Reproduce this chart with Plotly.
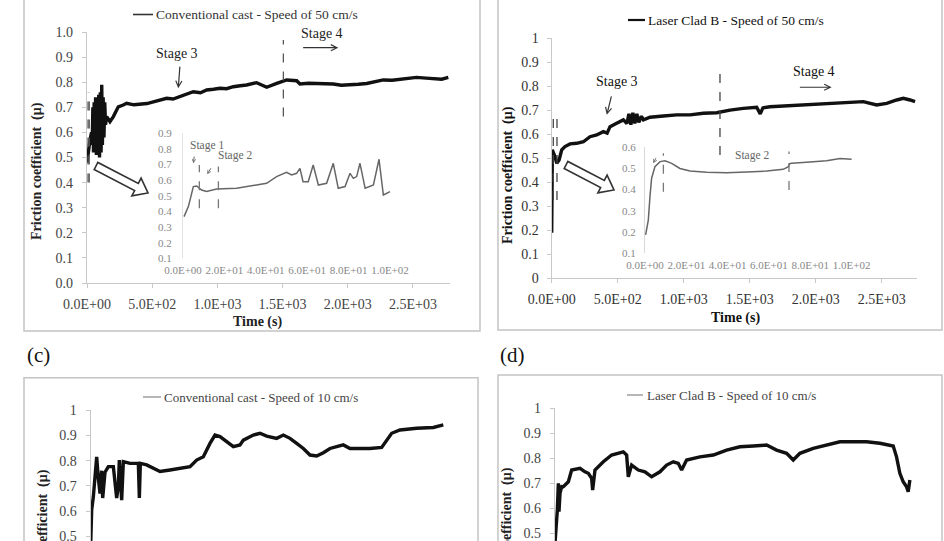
import math
import plotly.graph_objects as go

W, H = 944, 541

# ---------------- data ----------------
# (a) Conventional cast - 50 cm/s (main)
tl_t = [0, 10, 23, 35, 40, 45, 50, 55, 60, 66, 72, 78, 84, 90, 96, 102, 108, 113, 118, 124,
        130, 136, 142, 151, 176, 202, 240, 278, 304, 360, 406, 460, 509, 560, 611, 660, 713, 765, 815, 870,
        918, 970, 1020, 1070, 1122, 1175, 1224, 1301, 1340, 1378, 1455, 1531, 1608, 1633, 1700, 1761, 1830, 1889, 1950, 2017,
        2080, 2145, 2210, 2272, 2340, 2400, 2460, 2528, 2600, 2656, 2720, 2771]
tl_mu = [0.48, 0.53, 0.57, 0.60, 0.55, 0.70, 0.52, 0.72, 0.53, 0.74, 0.51, 0.73, 0.52, 0.75, 0.50, 0.76, 0.52, 0.79, 0.55, 0.74,
         0.58, 0.72, 0.63, 0.663, 0.643, 0.663, 0.702, 0.709, 0.716, 0.71, 0.713, 0.715, 0.722, 0.728, 0.736, 0.733, 0.742, 0.752, 0.762, 0.758,
         0.769, 0.772, 0.776, 0.774, 0.782, 0.786, 0.789, 0.798, 0.79, 0.78, 0.795, 0.809, 0.806, 0.793, 0.796, 0.795, 0.792, 0.793, 0.788, 0.789,
         0.792, 0.795, 0.802, 0.809, 0.808, 0.811, 0.814, 0.819, 0.816, 0.815, 0.812, 0.819]
# (a) inset, first 100 s
ia_t = [0.5, 2.6, 5, 6.6, 9, 11.4, 16.2, 25.9, 35.5, 40.4, 45.2, 50, 52.5, 54.9, 56.5, 58, 60.5, 62.9, 65.4, 69.4,
        72.6, 75, 78.3, 80.7, 82.3, 83.9, 85.5, 88, 92, 94.7, 96.8, 100]
ia_mu = [0.367, 0.431, 0.559, 0.563, 0.537, 0.527, 0.544, 0.548, 0.569, 0.58, 0.623, 0.65, 0.633, 0.644, 0.676, 0.59, 0.59, 0.697, 0.569, 0.58,
         0.708, 0.548, 0.559, 0.644, 0.612, 0.623, 0.708, 0.548, 0.569, 0.734, 0.505, 0.527]

# (b) Laser Clad B - 50 cm/s (main)
tr_t = [0, 3, 5, 15, 25, 38, 56, 76, 101, 139, 189, 240, 290, 341, 391, 420, 442, 492, 543, 570,
        585, 600, 615, 630, 645, 660, 680, 695, 745, 846, 947, 1048, 1149, 1250, 1351, 1452, 1553, 1580, 1600, 1654,
        1755, 1856, 1957, 2058, 2159, 2260, 2361, 2462, 2538, 2614, 2664, 2715, 2753]
tr_mu = [0.19, 0.40, 0.535, 0.52, 0.507, 0.479, 0.493, 0.535, 0.549, 0.56, 0.5625, 0.569, 0.59, 0.597, 0.611, 0.605, 0.632, 0.646, 0.66, 0.645,
         0.685, 0.64, 0.69, 0.645, 0.685, 0.65, 0.675, 0.66, 0.671, 0.676, 0.681, 0.681, 0.6875, 0.69, 0.701, 0.708, 0.7125, 0.685, 0.71, 0.715,
         0.718, 0.722, 0.726, 0.729, 0.729, 0.732, 0.736, 0.722, 0.729, 0.743, 0.75, 0.743, 0.736]
# (b) inset
ib_t = [0.3, 1.6, 2.4, 3.2, 4.8, 7.3, 9.7, 12.9, 16.9, 21.8, 29.8, 39.5, 49.2, 58.9, 66.9, 69.4, 70.0, 71, 78.2, 87.9, 94.4, 100]
ib_mu = [0.186, 0.256, 0.366, 0.452, 0.506, 0.53, 0.534, 0.522, 0.498, 0.486, 0.48, 0.478, 0.481, 0.486, 0.494, 0.506, 0.52, 0.522,
         0.527, 0.534, 0.545, 0.541]

# (c) Conventional cast - 10 cm/s
c_t = [0, 41, 111, 181, 251, 321, 391, 461, 503, 601, 741, 951, 1091, 1161, 1203, 1301, 1371, 1651, 2001, 2043,
       2085, 2351, 2631, 2911, 3331, 3751, 4171, 4451, 4731, 5011, 5221, 5431, 5711, 5991, 6271, 6412, 6832, 7112, 7392, 7812,
       8092, 8372, 8652, 8932, 9212, 9492, 9772, 10052, 10332, 10612, 10892, 11312, 11732, 12222, 12432, 12642, 12992, 13692, 14392, 14812]
c_mu = [0.47, 0.605, 0.657, 0.723, 0.815, 0.73, 0.67, 0.76, 0.652, 0.754, 0.776, 0.776, 0.652, 0.70, 0.802, 0.644, 0.796, 0.789, 0.789, 0.652,
        0.789, 0.783, 0.77, 0.757, 0.763, 0.77, 0.776, 0.802, 0.815, 0.868, 0.901, 0.895, 0.875, 0.855, 0.862, 0.881, 0.901, 0.908, 0.897, 0.888,
        0.901, 0.888, 0.868, 0.848, 0.822, 0.818, 0.831, 0.848, 0.855, 0.862, 0.848, 0.848, 0.848, 0.852, 0.881, 0.908, 0.921, 0.928, 0.931, 0.941]

# (d) Laser Clad B - 10 cm/s
d_t = [0, 42, 98, 140, 168, 210, 280, 350, 560, 700, 1050, 1260, 1400, 1540, 1582, 1680, 2030, 2380, 2660, 2870,
       3010, 3080, 3220, 3500, 3780, 4060, 4410, 4690, 4970, 5180, 5320, 5530, 6090, 6650, 7210, 7770, 8330, 8890, 9310, 9730,
       10010, 10290, 10850, 11410, 11970, 12530, 13090, 13650, 14210, 14350, 14490, 14630, 14770, 14840, 14910]
d_mu = [0.46, 0.513, 0.593, 0.70, 0.587, 0.66, 0.687, 0.686, 0.706, 0.753, 0.76, 0.746, 0.74, 0.72, 0.673, 0.753, 0.786, 0.813, 0.82, 0.826,
        0.813, 0.726, 0.773, 0.753, 0.746, 0.726, 0.746, 0.773, 0.786, 0.78, 0.753, 0.793, 0.806, 0.813, 0.833, 0.846, 0.849, 0.853, 0.833, 0.82,
        0.793, 0.82, 0.84, 0.853, 0.866, 0.866, 0.866, 0.86, 0.849, 0.806, 0.74, 0.706, 0.686, 0.666, 0.713]

# stage boundaries (time, mu_low, mu_high)
tl_bounds = [(8, 0.40, 0.76), (17, 0.40, 0.76), (1506, 0.663, 0.968)]
ia_bounds = [(7.9, 0.42, 0.697), (17.1, 0.42, 0.687)]
tr_bounds = [(12, 0.326, 0.6875), (40, 0.326, 0.6875), (1275, 0.514, 0.868)]
ib_bounds = [(8.9, 0.389, 0.569), (69.7, 0.397, 0.577)]

# tick labels
main_xt = [0, 500, 1000, 1500, 2000, 2500]
main_xl = ["0.0E+00", "5.0E+02", "1.0E+03", "1.5E+03", "2.0E+03", "2.5E+03"]
ins_xt = [0, 20, 40, 60, 80, 100]
ins_xl = ["0.0E+00", "2.0E+01", "4.0E+01", "6.0E+01", "8.0E+01", "1.0E+02"]
tl_yt = [0, 0.1, 0.2, 0.3, 0.4, 0.5, 0.6, 0.7, 0.8, 0.9, 1.0]
tl_yl = ["0.0", "0.1", "0.2", "0.3", "0.4", "0.5", "0.6", "0.7", "0.8", "0.9", "1.0"]
gen_yl = ["0", "0.1", "0.2", "0.3", "0.4", "0.5", "0.6", "0.7", "0.8", "0.9", "1"]
ia_yt = [0.1, 0.2, 0.3, 0.4, 0.5, 0.6, 0.7, 0.8, 0.9]
ib_yt = [0.1, 0.2, 0.3, 0.4, 0.5, 0.6]

FONT = "Liberation Serif, Times New Roman, Times, serif"


def X(px):
    return px / W


def Y(py):
    return 1 - py / H


fig = go.Figure()

# main traces
fig.add_trace(go.Scatter(x=tl_t, y=tl_mu, mode="lines", line=dict(color="#111", width=3.4), xaxis="x", yaxis="y"))
fig.add_trace(go.Scatter(x=ia_t, y=ia_mu, mode="lines", line=dict(color="#666", width=1.5), xaxis="x2", yaxis="y2"))
fig.add_trace(go.Scatter(x=tr_t, y=tr_mu, mode="lines", line=dict(color="#111", width=3.4), xaxis="x3", yaxis="y3"))
fig.add_trace(go.Scatter(x=ib_t, y=ib_mu, mode="lines", line=dict(color="#666", width=1.5), xaxis="x4", yaxis="y4"))
fig.add_trace(go.Scatter(x=c_t, y=c_mu, mode="lines", line=dict(color="#111", width=3.4), xaxis="x5", yaxis="y5"))
fig.add_trace(go.Scatter(x=d_t, y=d_mu, mode="lines", line=dict(color="#111", width=3.4), xaxis="x6", yaxis="y6"))

shapes = []
for bounds, xr, yr, col in [(tl_bounds, "x", "y", "#555"), (ia_bounds, "x2", "y2", "#777"),
                            (tr_bounds, "x3", "y3", "#444"), (ib_bounds, "x4", "y4", "#777")]:
    for (t, lo, hi) in bounds:
        shapes.append(dict(type="line", xref=xr, yref=yr, x0=t, x1=t, y0=lo, y1=hi,
                           line=dict(color=col, width=1.3, dash="dash")))


def hollow_arrow(x0, y0, x1, y1, sw=8, hw=20, hl=13):
    dx, dy = x1 - x0, y1 - y0
    L = math.hypot(dx, dy)
    ux, uy = dx / L, dy / L
    nx, ny = -uy, ux
    bx, by = x1 - ux * hl, y1 - uy * hl
    pts = [(x0 + nx * sw / 2, y0 + ny * sw / 2), (bx + nx * sw / 2, by + ny * sw / 2),
           (bx + nx * hw / 2, by + ny * hw / 2), (x1, y1), (bx - nx * hw / 2, by - ny * hw / 2),
           (bx - nx * sw / 2, by - ny * sw / 2), (x0 - nx * sw / 2, y0 - ny * sw / 2)]
    path = "M " + " L ".join(f"{X(a):.5f},{Y(b):.5f}" for a, b in pts) + " Z"
    return dict(type="path", xref="paper", yref="paper", path=path,
                line=dict(color="#333", width=1.6), fillcolor="white")


shapes.append(hollow_arrow(96, 166, 148, 193))
shapes.append(hollow_arrow(566, 165, 614, 190))

# panel frames
fc = "#c4c4c4"
for (x0, x1, yb) in [(24, 480, 331), (498, 942, 330)]:
    shapes.append(dict(type="path", xref="paper", yref="paper",
                       path=f"M {X(x0)},{Y(-2)} L {X(x0)},{Y(yb)} L {X(x1)},{Y(yb)} L {X(x1)},{Y(-2)}",
                       line=dict(color=fc, width=1.5)))
for (x0, x1, yt) in [(24, 478, 377.7), (498, 942, 375)]:
    shapes.append(dict(type="path", xref="paper", yref="paper",
                       path=f"M {X(x0)},{Y(545)} L {X(x0)},{Y(yt)} L {X(x1)},{Y(yt)} L {X(x1)},{Y(545)}",
                       line=dict(color=fc, width=1.5)))

# legend line samples
for (x0, x1, yy, col, wd) in [(133, 153, 14.5, "#333", 1.6), (628, 645, 20, "#111", 2.2),
                              (143, 161, 397, "#888", 1.2), (627, 643, 395, "#888", 1.2)]:
    shapes.append(dict(type="line", xref="paper", yref="paper", x0=X(x0), x1=X(x1), y0=Y(yy), y1=Y(yy),
                       line=dict(color=col, width=wd)))

ann = []


def text(px, py, s, size=13, color="#222", xanchor="center", yanchor="middle", angle=0):
    ann.append(dict(xref="paper", yref="paper", x=X(px), y=Y(py), text=s, showarrow=False,
                    xanchor=xanchor, yanchor=yanchor, textangle=angle,
                    font=dict(family=FONT, size=size, color=color)))


text(154, 14.5, "Conventional cast - Speed of 50 cm/s", 13.5, "#333", "left")
text(646, 20, "Laser Clad B - Speed of 50 cm/s", 13.5, "#111", "left")
text(162, 397, "Conventional cast - Speed of 10 cm/s", 13, "#444", "left")
text(645, 395, "Laser Clad B - Speed of 10 cm/s", 13, "#444", "left")

text(257, 322, "<b>Time (s)</b>", 14, "#222")
text(735, 318, "<b>Time (s)</b>", 14, "#111")
text(37, 171, "<b>Friction coefficient  (μ)</b>", 14, "#222", angle=-90)
text(508, 175, "<b>Friction coefficient  (μ)</b>", 14, "#111", angle=-90)
text(43, 467, "<b>Friction coefficient  (μ)</b>", 14, "#222", yanchor="top", angle=-90)
text(507, 465, "<b>Friction coefficient  (μ)</b>", 14, "#222", yanchor="top", angle=-90)

text(38, 355, "(c)", 21, "#111")
text(512, 355, "(d)", 21, "#111")


def dtext(xr, yr, x, y, s, size=14, color="#222"):
    ann.append(dict(xref=xr, yref=yr, x=x, y=y, text=s, showarrow=False,
                    font=dict(family=FONT, size=size, color=color)))


def darrow(xr, yr, x0, y0, x1, y1, color="#333", size=1.0, width=1.2):
    ann.append(dict(xref=xr, yref=yr, axref=xr, ayref=yr, x=x1, y=y1, ax=x0, ay=y0, text="",
                    showarrow=True, arrowhead=5, arrowsize=size, arrowwidth=width, arrowcolor=color))


dtext("x", "y", 693, 0.915, "Stage 3")
darrow("x", "y", 713, 0.868, 700, 0.776)
dtext("x", "y", 1800, 0.995, "Stage 4")
darrow("x", "y", 1646, 0.9376, 1927, 0.9376)

dtext("x3", "y3", 492, 0.819, "Stage 3", 14, "#111")
darrow("x3", "y3", 455, 0.764, 417, 0.681)
dtext("x3", "y3", 1987, 0.861, "Stage 4", 14, "#111")
darrow("x3", "y3", 1869, 0.796, 2121, 0.796)

dtext("x2", "y2", 11.4, 0.819, "Stage 1", 11.5, "#666")
darrow("x2", "y2", 5.5, 0.761, 5.0, 0.708, "#666", 0.7, 1)
dtext("x2", "y2", 25, 0.761, "Stage 2", 11.5, "#666")
darrow("x2", "y2", 13.9, 0.686, 11.7, 0.638, "#666", 0.7, 1)

dtext("x4", "y4", 8.9, 0.612, "Stage1", 11.5, "#666")
darrow("x4", "y4", 5.6, 0.553, 4.0, 0.522, "#666", 0.7, 1)
dtext("x4", "y4", 51.6, 0.561, "Stage 2", 11.5, "#666")

axc = "#c8c8c8"


def main_axis(dom, rng, **kw):
    d = dict(domain=dom, range=rng, showgrid=False, zeroline=False, showline=True, linecolor=axc,
             linewidth=1.2, ticks="outside", ticklen=4, tickcolor=axc, tickmode="array",
             tickfont=dict(family=FONT, size=14, color="#444"), fixedrange=True, automargin=False,
             ticklabeloverflow="allow")
    d.update(kw)
    return d


def inset_axis(dom, rng, **kw):
    d = dict(domain=dom, range=rng, showgrid=False, zeroline=False, showline=False, ticks="",
             tickmode="array", tickfont=dict(family=FONT, size=11, color="#888"), fixedrange=True,
             automargin=False, ticklabeloverflow="allow")
    d.update(kw)
    return d


fig.update_layout(
    width=W, height=H, autosize=False, margin=dict(l=0, r=0, t=0, b=0, pad=0, autoexpand=False),
    font=dict(family=FONT),
    paper_bgcolor="white", plot_bgcolor="rgba(0,0,0,0)", showlegend=False,
    xaxis=main_axis([X(87), X(449.5)], [0, 2780], anchor="y", tickvals=main_xt, ticktext=main_xl,
                    ticklabelstandoff=4),
    yaxis=main_axis([Y(283), Y(32)], [0, 1], anchor="x", tickvals=tl_yt, ticktext=tl_yl,
                    ticklabelstandoff=6),
    xaxis2=inset_axis([X(183), X(402.4)], [0, 106], anchor="y2", tickvals=ins_xt, ticktext=ins_xl,
                      ticklabelstandoff=4),
    yaxis2=inset_axis([Y(258.3), Y(133.3)], [0.1, 0.9], anchor="x2", tickvals=ia_yt,
                      showline=True, linecolor="#e2e2e2", ticklabelstandoff=8),
    xaxis3=main_axis([X(551.7), X(917.3)], [0, 2770], anchor="y3", tickvals=main_xt, ticktext=main_xl,
                     ticklabelstandoff=4, tickfont=dict(family=FONT, size=14, color="#333")),
    yaxis3=main_axis([Y(278.3), Y(38.3)], [0, 1], anchor="x3", tickvals=tl_yt, ticktext=gen_yl,
                     ticklabelstandoff=5, tickfont=dict(family=FONT, size=14, color="#333")),
    xaxis4=inset_axis([X(645), X(864)], [0, 106], anchor="y4", tickvals=ins_xt, ticktext=ins_xl,
                      ticklabelstandoff=4),
    yaxis4=inset_axis([Y(253.3), Y(146.7)], [0.1, 0.6], anchor="x4", tickvals=ib_yt,
                      showline=True, linecolor="#d8d8d8", ticklabelstandoff=6),
    xaxis5=main_axis([X(90.7), X(447.8)], [0, 15000], anchor="y5", visible=False),
    yaxis5=main_axis([0, Y(410)], [0.4822, 1.0], anchor="x5", tickvals=tl_yt, ticktext=gen_yl,
                     ticklabelstandoff=6),
    xaxis6=main_axis([X(555), X(912)], [0, 15000], anchor="y6", visible=False),
    yaxis6=main_axis([0, Y(408.3)], [0.4692, 1.0], anchor="x6", tickvals=tl_yt, ticktext=gen_yl,
                     ticklabelstandoff=6),
    shapes=shapes, annotations=ann,
)

fig.write_html("out.html")
